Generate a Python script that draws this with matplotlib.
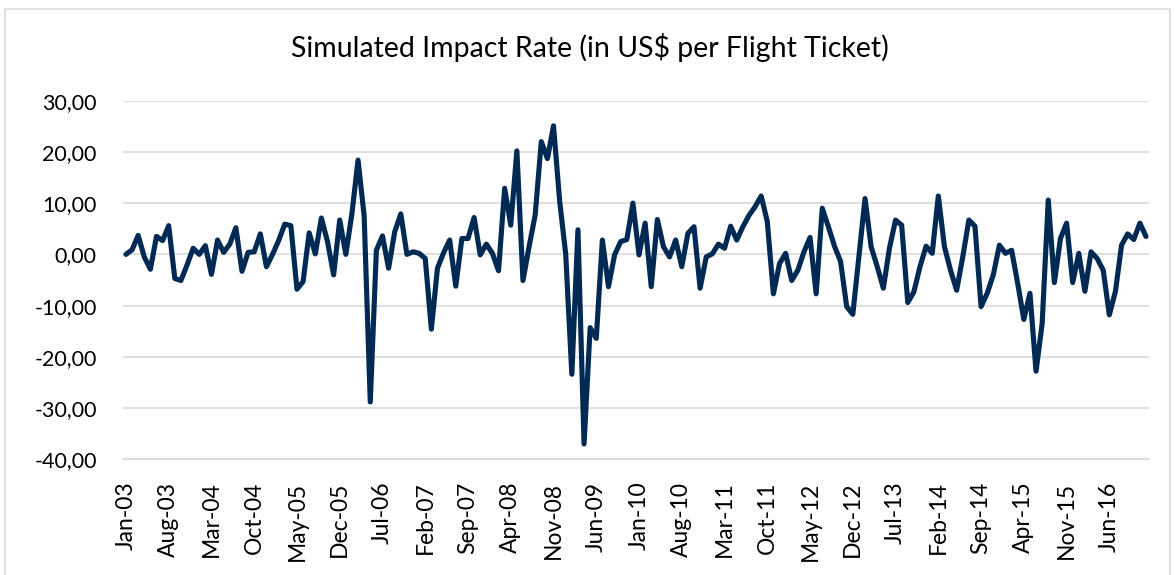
import matplotlib
matplotlib.use("Agg")
import matplotlib.pyplot as plt
from matplotlib.patches import Rectangle
from matplotlib.ticker import FuncFormatter
import numpy as np
import pandas as pd

plt.rcParams['font.family'] = ['Lato', 'DejaVu Sans']

# Simulated impact rate per month, Jan-03 .. Dec-16
impact = [
    0.0, 0.9, 3.7, -0.5, -2.9, 3.5, 2.7, 5.6, -4.7, -5.1, -2.1, 1.2,
    0.0, 1.7, -3.9, 2.8, 0.4, 2.0, 5.2, -3.3, 0.4, 0.5, 4.0, -2.4,
    0.0, 2.7, 5.9, 5.6, -6.8, -5.3, 4.2, 0.1, 7.1, 2.5, -4.0, 6.7,
    0.0, 8.0, 18.4, 7.5, -28.8, 0.8, 3.6, -2.7, 4.4, 7.9, 0.0, 0.5,
    0.2, -0.8, -14.6, -2.7, 0.3, 2.8, -6.2, 3.1, 3.1, 7.2, -0.1, 2.0,
    0.2, -3.2, 12.9, 5.7, 20.2, -5.1, 1.5, 7.7, 22.0, 18.7, 25.1, 10.5,
    0.0, -23.4, 4.8, -37.0, -14.3, -16.4, 2.8, -6.3, -0.1, 2.5, 2.9, 10.0,
    -0.1, 6.1, -6.3, 6.8, 1.5, -0.5, 2.8, -2.4, 4.1, 5.4, -6.6, -0.5,
    0.1, 2.0, 1.2, 5.5, 2.8, 5.4, 7.6, 9.3, 11.4, 6.4, -7.7, -1.8,
    0.2, -5.1, -3.1, 0.5, 3.3, -7.7, 9.0, 5.4, 1.6, -1.4, -10.2, -11.7,
    -0.5, 10.9, 1.5, -2.4, -6.6, 1.2, 6.7, 5.7, -9.4, -7.3, -2.4, 1.6,
    0.2, 11.4, 1.5, -3.1, -7.0, -0.5, 6.7, 5.5, -10.2, -7.6, -4.0, 1.8,
    0.2, 0.8, -5.7, -12.7, -7.6, -22.8, -13.5, 10.6, -5.5, 3.1, 6.1, -5.5,
    0.2, -7.2, 0.5, -0.8, -3.1, -11.8, -7.2, 1.8, 4.0, 2.9, 6.1, 3.5,
]
months = pd.date_range("2003-01-01", periods=len(impact), freq="MS")
month_labels = [m.strftime("%b-%y") for m in months]
y_ticks = [30, 20, 10, 0, -10, -20, -30, -40]

fig = plt.figure(figsize=(11.75, 5.75), dpi=100)

# chart border like the excel chart area
fig.patches.append(Rectangle((5 / 1175, -0.01), 1165 / 1175, 1 - 9 / 575 + 0.01,
                             transform=fig.transFigure, fill=False,
                             edgecolor="#d9d9d9", linewidth=1.2))

ax = fig.add_axes([0.1049, 0.2012, 0.8727, 0.6237])
x = np.arange(len(impact))
ax.plot(x, impact, color="#002a54", linewidth=3.7, solid_joinstyle="round",
        solid_capstyle="round", zorder=3)

ax.set_ylim(-40, 30)
ax.set_yticks(y_ticks)
ax.yaxis.set_major_formatter(FuncFormatter(lambda v, p: f"{v:.2f}".replace(".", ",")))
ax.set_xlim(-0.44, len(impact) - 1 + 0.44)
tick_pos = x[::7]
ax.set_xticks(tick_pos)
ax.set_xticklabels([month_labels[i] for i in tick_pos], rotation=90)

ax.grid(axis="y", color="#d9d9d9", linewidth=1.2, zorder=0)
for s in ["top", "right", "left"]:
    ax.spines[s].set_visible(False)
ax.spines["bottom"].set_color("#d9d9d9")
ax.spines["bottom"].set_linewidth(1.2)
ax.tick_params(axis="both", length=0, colors="black")
ax.tick_params(axis="y", pad=19, labelsize=15.5)
ax.tick_params(axis="x", pad=16, labelsize=16.5)

fig.text(0.502, 0.918, "Simulated Impact Rate (in US$ per Flight Ticket)",
         ha="center", va="center", fontsize=20.5)

fig.savefig("out.png", dpi=100)
